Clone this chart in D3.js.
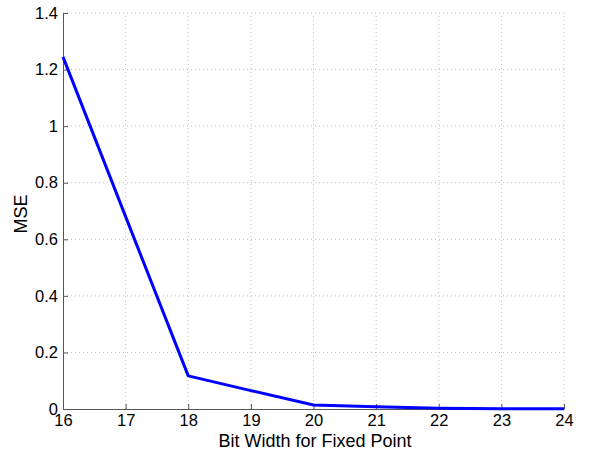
<!DOCTYPE html>
<html><head><meta charset="utf-8">
<script src="https://cdn.jsdelivr.net/npm/d3@7"></script>
<style>body{margin:0;background:#fff}svg{display:block}text{font-family:"Liberation Sans",Arial,sans-serif}</style>
</head><body>
<svg id="c" width="591" height="450"></svg>
<script>
const bitWidths = [16, 17, 18, 19, 20, 21, 22, 23, 24];
const mseValues = [1.245, 0.68, 0.117, 0.065, 0.014, 0.008, 0.003, 0.001, 0.0005];
const xTicks = [16, 17, 18, 19, 20, 21, 22, 23, 24];
const yTicks = [0, 0.2, 0.4, 0.6, 0.8, 1, 1.2, 1.4];
const xLabel = "Bit Width for Fixed Point";
const yLabel = "MSE";

const svg = d3.select("#c");
const L = 63, R = 564, T = 13, B = 409;
const x = d3.scaleLinear().domain([16, 24]).range([L, R]);
const y = d3.scaleLinear().domain([0, 1.4]).range([B, T]);

// grid
const g = svg.append("g");
g.selectAll(".vx").data(xTicks.slice(1)).join("line")
  .attr("x1", d => x(d)).attr("x2", d => x(d)).attr("y1", B).attr("y2", T)
  .attr("stroke", "#bfbfbf").attr("stroke-width", 1).attr("stroke-dasharray", "1,3");
g.selectAll(".hy").data(yTicks.slice(1)).join("line")
  .attr("y1", d => y(d)).attr("y2", d => y(d)).attr("x1", L).attr("x2", R)
  .attr("stroke", "#bfbfbf").attr("stroke-width", 1).attr("stroke-dasharray", "1,3");

// axes
const fmt = d => d3.format("~g")(d);
const xa = svg.append("g").attr("transform", `translate(0,${B})`)
  .call(d3.axisBottom(x).tickValues(xTicks).tickFormat(fmt).tickSizeInner(-5).tickSizeOuter(0).tickPadding(5));
const ya = svg.append("g").attr("transform", `translate(${L},0)`)
  .call(d3.axisLeft(y).tickValues(yTicks).tickFormat(fmt).tickSizeInner(-5).tickSizeOuter(0).tickPadding(5));
[xa, ya].forEach(a => {
  a.select(".domain").attr("stroke", "#555");
  a.selectAll(".tick line").attr("stroke", "#555");
  a.selectAll("text").attr("font-size", 16.5).attr("fill", "#000")
   .style("font-family", '"Liberation Sans",Arial,sans-serif');
});

// line
svg.append("path").datum(bitWidths.map((b, i) => [b, mseValues[i]]))
  .attr("d", d3.line().x(d => x(d[0])).y(d => y(d[1])))
  .attr("fill", "none").attr("stroke", "#0000ff").attr("stroke-width", 3)
  .attr("stroke-linejoin", "round");

svg.append("text").attr("x", 315).attr("y", 447).attr("text-anchor", "middle")
  .attr("font-size", 18).text(xLabel);
svg.append("text").attr("transform", `translate(27,214) rotate(-90)`)
  .attr("text-anchor", "middle").attr("font-size", 18).text(yLabel);
</script>
</body></html>
